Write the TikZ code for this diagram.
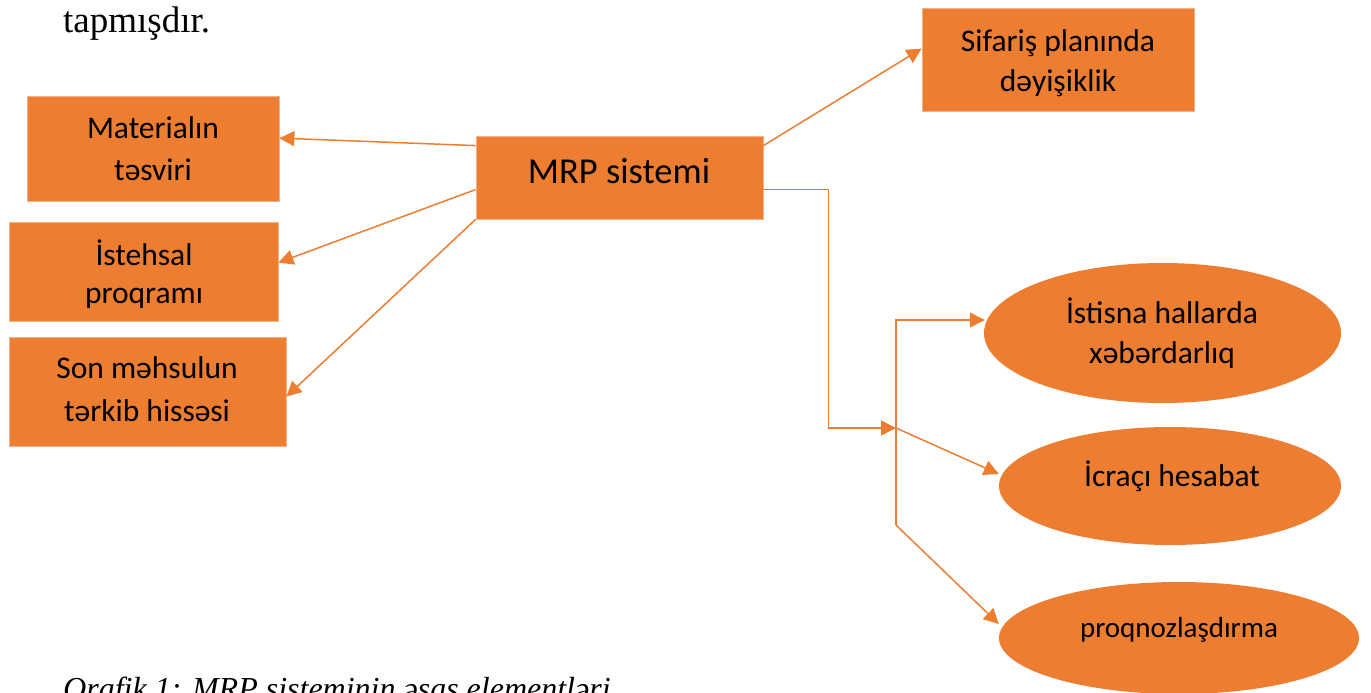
\documentclass[tikz,border=0pt]{standalone}
\usepackage{fontspec}
\setmainfont{Liberation Serif}
\newfontfamily\boxfont{Carlito}
\usetikzlibrary{arrows.meta,shapes.geometric,calc}
\definecolor{accent}{HTML}{ED7D31}
\definecolor{rim}{HTML}{F4B183}

\begin{document}
\begin{tikzpicture}[x=1pt,y=-1pt,
  box/.style={rectangle, fill=accent, draw=rim, line width=0.8pt, inner sep=0pt},
  oval/.style={ellipse, fill=accent, inner sep=0pt},
  txt/.style={anchor=base, inner sep=0pt, font=\boxfont\fontsize{31.5}{38}\selectfont},
  link/.style={draw=accent, line width=1.5pt, -{Triangle[length=15pt,width=15pt]}},
  plain/.style={draw=accent, line width=1.5pt}]
\useasboundingbox (0,0) rectangle (1371,693);
\clip (0,0) rectangle (1371,693);

% running text and caption
\node[anchor=base west, inner sep=0pt, font=\fontsize{37}{44}\selectfont] (lead) at (63,33) {tapmışdır.};
\node[anchor=base west, inner sep=0pt, font=\itshape\fontsize{32}{38}\selectfont] (cap) at (63,699) {Qrafik 1: MRP sisteminin əsas elementləri};

% left boxes
\node[box, minimum width=252pt, minimum height=105pt] (mat) at (153,148.5) {};
\node[txt] (mat1) at (153,138) {Materialın};
\node[txt] (mat2) at (153,180) {təsviri};

\node[box, minimum width=269pt, minimum height=99pt] (ist) at (143.5,271.5) {};
\begin{scope}
  % the text frame ends above the box edge, trimming the descenders
  \clip (ist.north west) rectangle ($(ist.south east)+(0,-12)$);
  \node[txt] (ist1) at (144,265) {İstehsal};
  \node[txt] (ist2) at (144,303) {proqramı};
\end{scope}

\node[box, minimum width=277pt, minimum height=109pt] (son) at (147.5,391.5) {};
\node[txt] (son1) at (147,378) {Son məhsulun};
\node[txt] (son2) at (147,421) {tərkib hissəsi};

% central box
\node[box, minimum width=287pt, minimum height=83pt] (mrp) at (619.5,177.5) {};
\node[txt, font=\boxfont\fontsize{36.5}{44}\selectfont] (mrp1) at (619,183) {MRP sistemi};

% top right box
\node[box, minimum width=272pt, minimum height=103pt] (sif) at (1058,59.5) {};
\node[txt] (sif1) at (1058,52) {Sifariş planında};
\node[txt] (sif2) at (1058,92) {dəyişiklik};

% ellipses
\node[oval, minimum width=357pt, minimum height=140pt] (exc) at (1162.5,333) {};
\node[txt] (exc1) at (1162,323) {İstisna hallarda};
\node[txt] (exc2) at (1162,363) {xəbərdarlıq};

\node[oval, minimum width=342pt, minimum height=118pt] (icr) at (1170,486) {};
\node[txt] (icr1) at (1172,486) {İcraçı hesabat};

\node[oval, minimum width=360pt, minimum height=112pt] (prq) at (1179,638) {};
\node[txt, font=\boxfont\fontsize{29}{35}\selectfont] (prq1) at (1179,637) {proqnozlaşdırma};

% connectors
\coordinate (hub) at (896,428);
\coordinate (bustop) at (896,320);
\coordinate (busbot) at (896,525);

\draw[link] ($(mrp.north west)+(0,10)$) -- ($(mat.north east)+(0,42.5)$);
\draw[link] ($(mrp.north west)+(0,54)$) -- ($(ist.north east)+(0,41)$);
\draw[link] (mrp.south west) -- ($(son.north east)+(0,60)$);
\draw[link] ($(mrp.north east)+(0,10)$) -- ($(sif.north west)+(0,41)$);
\draw[link] ($(mrp.north east)+(0,54)$) -- ++(65,0) |- (hub);
\draw[link] (hub) -- ($(icr.west)+(0,-12)$);
\draw[link] (busbot) -- (bustop) -- ($(exc.west)+(1,-13)$);
\draw[link] (busbot) -- ($(prq.west)+(0,-14)$);
\end{tikzpicture}
\end{document}
